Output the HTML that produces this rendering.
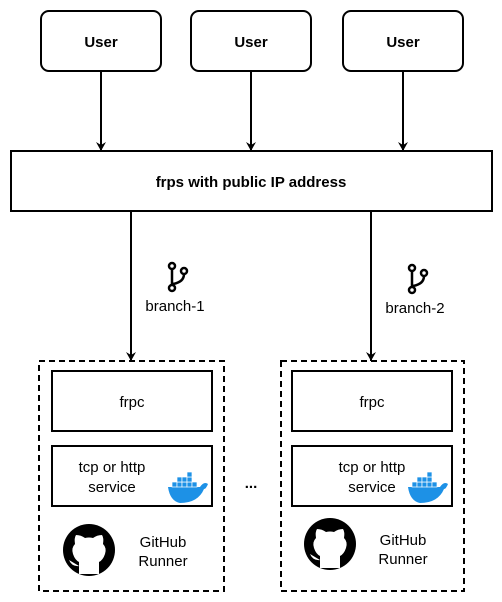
<!DOCTYPE html>
<html><head><style>body{margin:0;background:#fff}svg{display:block}</style></head><body>
<svg width="502" height="602" xmlns="http://www.w3.org/2000/svg" font-family="Liberation Sans, sans-serif">
<defs>
<marker id="a" markerWidth="10" markerHeight="10" refX="9" refY="5" orient="auto" markerUnits="userSpaceOnUse"><path d="M0,0 L9,5 L0,10 L3,5 Z" fill="#000"/></marker>
<g id="br"><circle cx="-6" cy="-11" r="3" fill="none" stroke="#000" stroke-width="2.5"/><circle cx="-6" cy="11" r="3" fill="none" stroke="#000" stroke-width="2.5"/><circle cx="6" cy="-6" r="3" fill="none" stroke="#000" stroke-width="2.5"/><path d="M-6,-8 V8 M6,-3 Q6,5 -5,7" fill="none" stroke="#000" stroke-width="2.5"/></g>
<g id="gh"><circle r="26" fill="#000"/><path d="M-10,24 V12 Q-14,10 -16,4 Q-18,-2 -14,-6 Q-15,-12 -13,-15 Q-8,-15 -4,-12 Q0,-13 4,-12 Q8,-15 13,-15 Q15,-12 14,-6 Q18,-2 16,4 Q14,10 10,12 V24 Z M-10,16 Q-17,17 -20,10" fill="#fff"/></g>
<g id="dk"><path d="M-18,0 H14 Q18,-6 22,-3 Q20,2 18,2 Q12,16 -6,16 Q-16,14 -18,0 Z" fill="#1d91e6"/><g fill="#1d91e6" stroke="#fff" stroke-width="0.7"><rect x="-14" y="-5" width="5" height="5"/><rect x="-9" y="-5" width="5" height="5"/><rect x="-4" y="-5" width="5" height="5"/><rect x="1" y="-5" width="5" height="5"/><rect x="6" y="-5" width="5" height="5"/><rect x="-9" y="-10" width="5" height="5"/><rect x="-4" y="-10" width="5" height="5"/><rect x="1" y="-10" width="5" height="5"/><rect x="1" y="-15" width="5" height="5"/></g></g>
</defs>
<g fill="#fff" stroke="#000" stroke-width="2">
<rect x="41" y="11" width="120" height="60" rx="8"/><rect x="191" y="11" width="120" height="60" rx="8"/><rect x="343" y="11" width="120" height="60" rx="8"/>
<rect x="11" y="151" width="481" height="60"/>
</g>
<g stroke="#000" stroke-width="2" fill="none" marker-end="url(#a)">
<path d="M101,71 V151"/><path d="M251,71 V151"/><path d="M403,71 V151"/><path d="M131,211 V361"/><path d="M371,211 V361"/>
</g>
<g fill="none" stroke="#000" stroke-width="2" stroke-dasharray="6,4">
<rect x="39" y="361" width="185" height="230"/><rect x="281" y="361" width="183" height="230"/>
</g>
<g fill="#fff" stroke="#000" stroke-width="2">
<rect x="52" y="371" width="160" height="60"/><rect x="52" y="446" width="160" height="60"/>
<rect x="292" y="371" width="160" height="60"/><rect x="292" y="446" width="160" height="60"/>
</g>
<g font-size="15" font-weight="bold" text-anchor="middle"><text x="101" y="47">User</text><text x="251" y="47">User</text><text x="403" y="47">User</text><text x="251" y="187">frps with public IP address</text></g>
<g font-size="15" text-anchor="middle">
<text x="132" y="407">frpc</text><text x="372" y="407">frpc</text>
<text x="112" y="472">tcp or http</text><text x="112" y="492">service</text>
<text x="372" y="472">tcp or http</text><text x="372" y="492">service</text>
<text x="163" y="547">GitHub</text><text x="163" y="566">Runner</text>
<text x="403" y="545">GitHub</text><text x="403" y="564">Runner</text>
<text x="175" y="311">branch-1</text><text x="415" y="313">branch-2</text>
<text x="251" y="488" font-weight="bold">...</text>
</g>
<use href="#br" x="178" y="277"/><use href="#br" x="418" y="279"/>
<use href="#gh" x="89" y="550"/><use href="#gh" x="330" y="544"/>
<use href="#dk" x="186" y="487"/><use href="#dk" x="426" y="487"/>
</svg>
</body></html>
